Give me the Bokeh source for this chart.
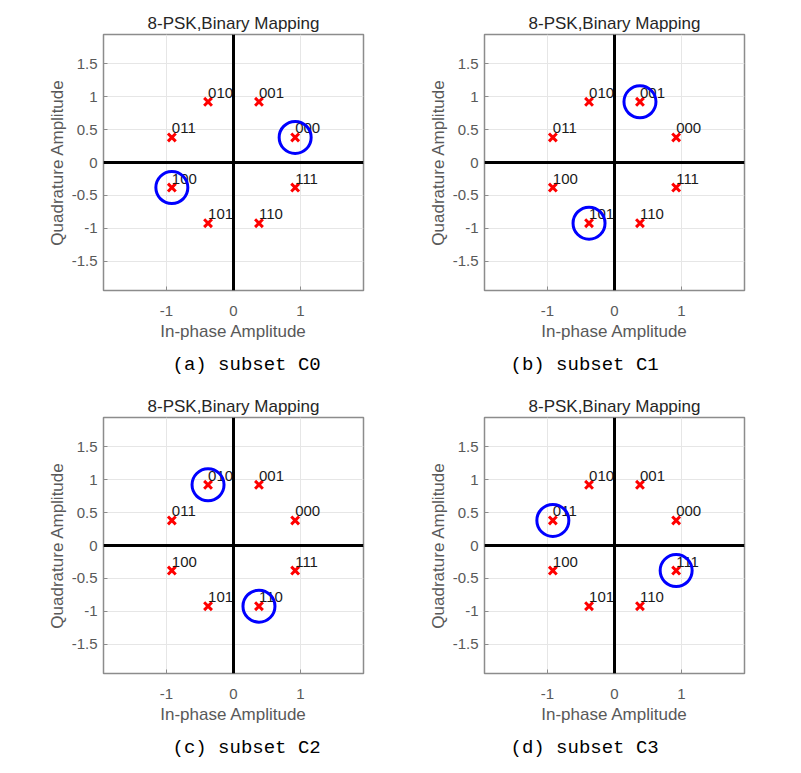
from bokeh.plotting import figure
from bokeh.models import Range1d, Span, Title, FixedTicker
from bokeh.layouts import column, row
from bokeh.embed import file_html
from bokeh.resources import INLINE
from bokeh.core.properties import value

# ---- data ----
bits = ["000", "001", "010", "011", "100", "101", "110", "111"]
in_phase = [0.92, 0.38, -0.38, -0.92, -0.92, -0.38, 0.38, 0.92]
quadrature = [0.38, 0.92, 0.92, 0.38, -0.38, -0.92, -0.92, -0.38]

panel_letters = ["a", "b", "c", "d"]
subset_names = ["C0", "C1", "C2", "C3"]
subset_members = [["000", "100"], ["001", "101"], ["010", "110"], ["011", "111"]]

x_ticks = [-1, 0, 1]
x_tick_labels = ["-1", "0", "1"]
y_ticks = [-1.5, -1, -0.5, 0, 0.5, 1, 1.5]
y_tick_labels = ["-1.5", "-1", "-0.5", "0", "0.5", "1", "1.5"]

title_text = "8-PSK,Binary Mapping"
x_label = "In-phase Amplitude"
y_label = "Quadrature Amplitude"

SANS = "Liberation Sans"
GRAY = "#595959"


def make_panel(letter, name, members, caption_offset):
    p = figure(width=381, height=383, output_backend="svg", toolbar_location=None,
               x_range=Range1d(-1.94, 1.94), y_range=Range1d(-1.94, 1.94),
               min_border_left=103, min_border_right=18, min_border_top=34,
               min_border_bottom=91, background_fill_color="white",
               border_fill_color="white")
    p.outline_line_color = "#8c8c8c"
    p.outline_line_width = 1.5

    p.title.text = title_text
    p.title.align = "center"
    p.title.text_font = SANS
    p.title.text_font_size = "17px"
    p.title.text_font_style = "normal"
    p.title.text_color = "#262626"
    p.title.standoff = 4

    p.xaxis.ticker = FixedTicker(ticks=x_ticks)
    p.yaxis.ticker = FixedTicker(ticks=y_ticks)
    p.xaxis.major_label_overrides = dict(zip(x_ticks, x_tick_labels))
    p.yaxis.major_label_overrides = dict(zip(y_ticks, y_tick_labels))
    p.xgrid.ticker = FixedTicker(ticks=x_ticks)
    p.ygrid.ticker = FixedTicker(ticks=y_ticks)
    p.grid.grid_line_color = "#e6e6e6"
    p.grid.grid_line_width = 1

    p.xaxis.axis_label = x_label
    p.yaxis.axis_label = y_label
    for ax in (p.xaxis, p.yaxis):
        ax.axis_line_color = "#8c8c8c"
        ax.major_tick_line_color = "#8c8c8c"
        ax.major_tick_in = 4
        ax.major_tick_out = 0
        ax.minor_tick_line_color = None
        ax.major_label_text_font = SANS
        ax.major_label_text_font_size = "15px"
        ax.major_label_text_color = GRAY
        ax.axis_label_text_font = SANS
        ax.axis_label_text_font_size = "17px"
        ax.axis_label_text_font_style = "normal"
        ax.axis_label_text_color = GRAY
    p.xaxis.major_label_standoff = 15
    p.xaxis.axis_label_standoff = 3
    p.yaxis.major_label_standoff = 6
    p.yaxis.axis_label_standoff = 2

    p.add_layout(Span(location=0, dimension="height", line_color="black", line_width=3))
    p.add_layout(Span(location=0, dimension="width", line_color="black", line_width=3))

    p.scatter(in_phase, quadrature, marker="x", size=11, line_color="#ff0000", line_width=3)
    p.text(in_phase, quadrature, text=bits, text_font=value(SANS), text_font_size="15px",
           text_color="#1a1a1a", text_baseline="alphabetic", text_align="left",
           x_offset=0, y_offset=-9)

    sx = [in_phase[bits.index(b)] for b in members]
    sy = [quadrature[bits.index(b)] for b in members]
    p.scatter(sx, sy, marker="circle", size=32, fill_color=None, line_color="#0000ff",
              line_width=3)

    cap = Title(text="(%s) subset %s" % (letter, name), align="left", offset=caption_offset,
                text_font="Liberation Mono", text_font_size="19px", text_font_style="normal",
                text_color="black", standoff=16)
    p.add_layout(cap, "below")
    return p


offsets = [69, 26, 69, 26]
panels = [make_panel(l, n, m, o) for l, n, m, o in zip(panel_letters, subset_names, subset_members, offsets)]
layout = column(row(panels[0], panels[1]), row(panels[2], panels[3]))

open("out.html", "w").write(file_html(layout, INLINE))
